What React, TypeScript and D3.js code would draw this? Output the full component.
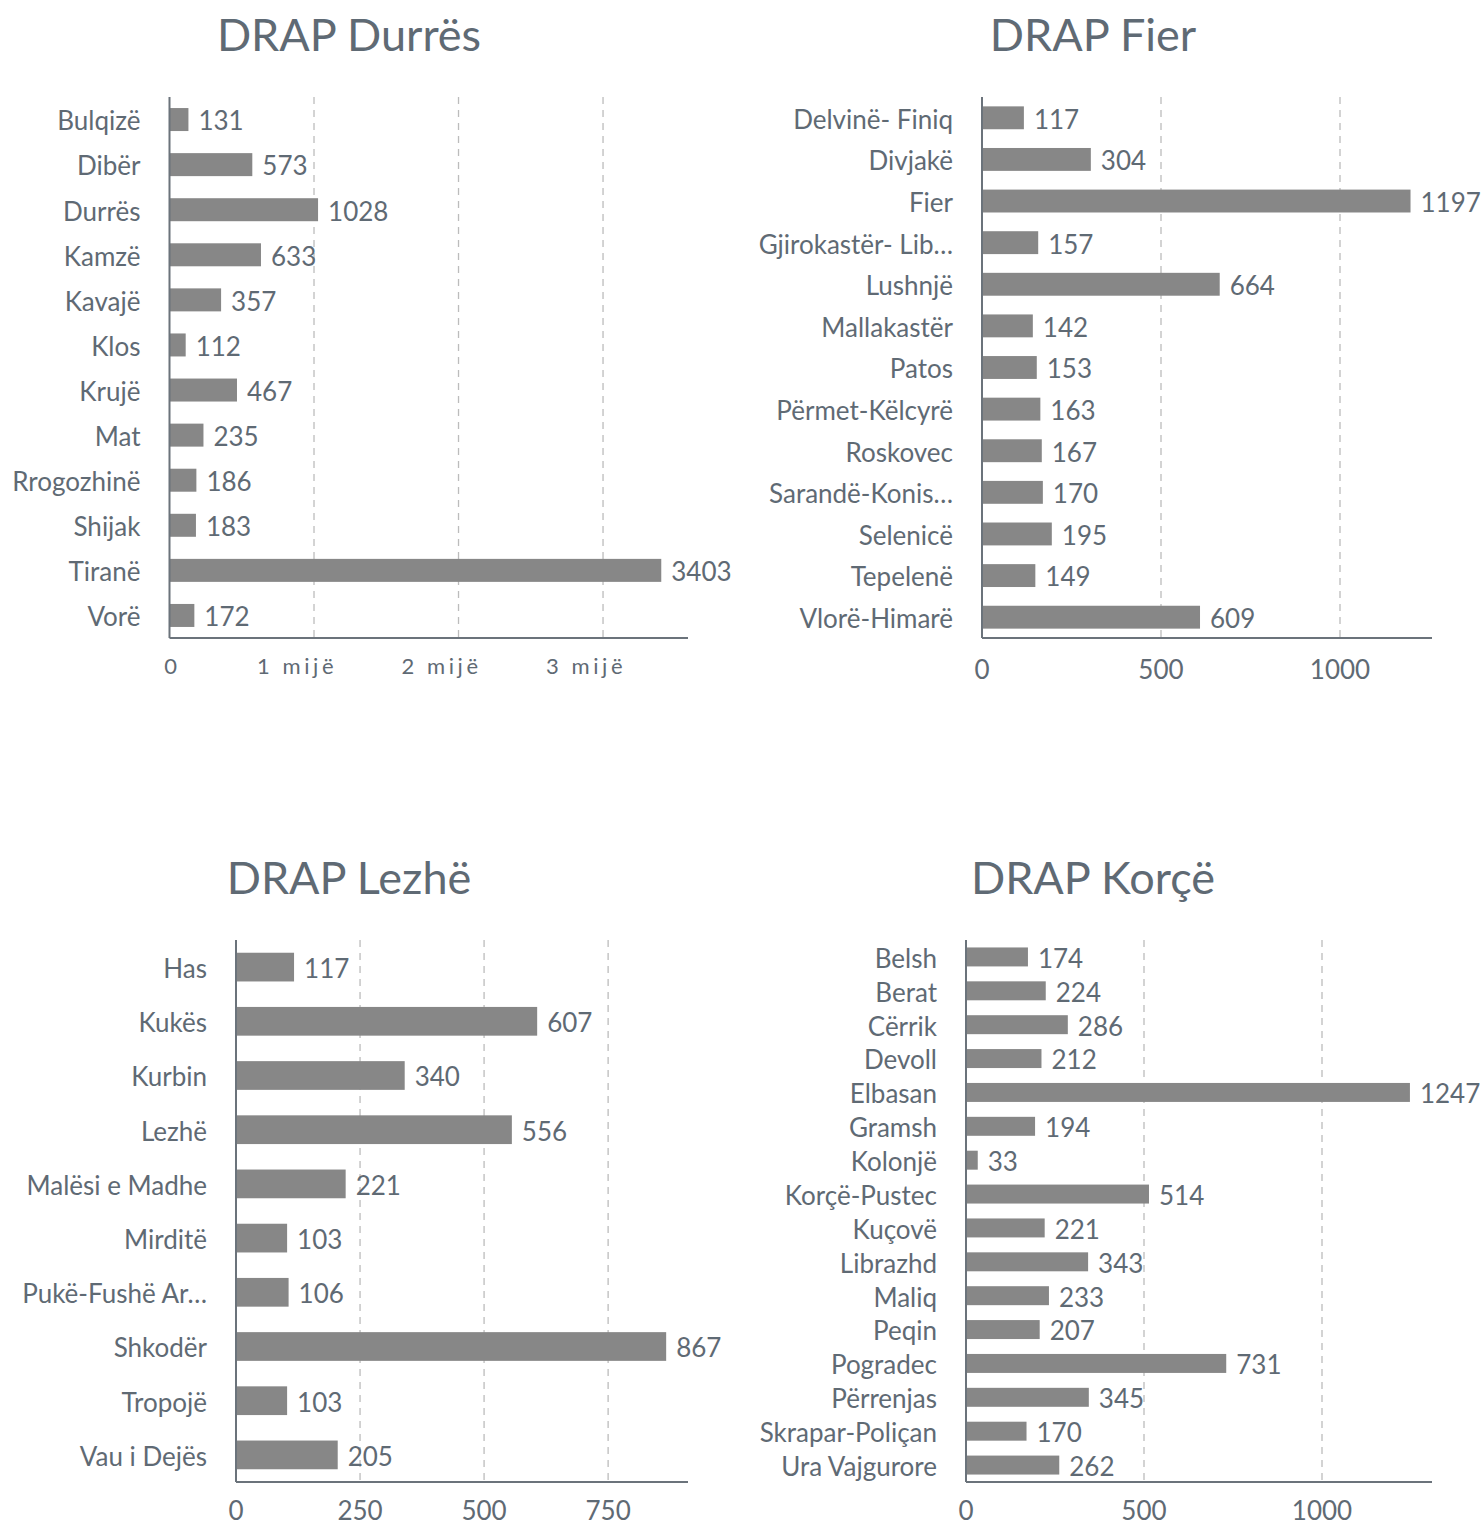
import React from "react";
import * as d3 from "d3";

const durresCats = ["Bulqizë", "Dibër", "Durrës", "Kamzë", "Kavajë", "Klos", "Krujë", "Mat", "Rrogozhinë", "Shijak", "Tiranë", "Vorë"];
const durresVals = [131, 573, 1028, 633, 357, 112, 467, 235, 186, 183, 3403, 172];
const durresTicks = [0, 1000, 2000, 3000];
const durresTickLabels = ["0", "1 mijë", "2 mijë", "3 mijë"];

const fierCats = ["Delvinë- Finiq", "Divjakë", "Fier", "Gjirokastër- Lib…", "Lushnjë", "Mallakastër", "Patos", "Përmet-Këlcyrë", "Roskovec", "Sarandë-Konis…", "Selenicë", "Tepelenë", "Vlorë-Himarë"];
const fierVals = [117, 304, 1197, 157, 664, 142, 153, 163, 167, 170, 195, 149, 609];
const fierTicks = [0, 500, 1000];
const fierTickLabels = ["0", "500", "1000"];

const lezheCats = ["Has", "Kukës", "Kurbin", "Lezhë", "Malësi e Madhe", "Mirditë", "Pukë-Fushë Ar…", "Shkodër", "Tropojë", "Vau i Dejës"];
const lezheVals = [117, 607, 340, 556, 221, 103, 106, 867, 103, 205];
const lezheTicks = [0, 250, 500, 750];
const lezheTickLabels = ["0", "250", "500", "750"];

const korceCats = ["Belsh", "Berat", "Cërrik", "Devoll", "Elbasan", "Gramsh", "Kolonjë", "Korçë-Pustec", "Kuçovë", "Librazhd", "Maliq", "Peqin", "Pogradec", "Përrenjas", "Skrapar-Poliçan", "Ura Vajgurore"];
const korceVals = [174, 224, 286, 212, 1247, 194, 33, 514, 221, 343, 233, 207, 731, 345, 170, 262];
const korceTicks = [0, 500, 1000];
const korceTickLabels = ["0", "500", "1000"];

const TEXT = "#5f6a74";
const BAR = "#878787";
const AXIS = "#6b737b";
const GRID = "#bcbcbc";
const FONT = "Lato, 'Noto Sans', sans-serif";

type PanelProps = {
  title: string;
  titleX: number;
  titleY: number;
  cats: string[];
  vals: number[];
  ticks: number[];
  tickLabels: string[];
  x0: number;
  x1: number;
  domMax: number;
  top: number;
  bottom: number;
  padding: number;
  tickY: number;
  tickStyle?: "spaced";
};

function Panel(p: PanelProps) {
  const x = d3.scaleLinear().domain([0, p.domMax]).range([p.x0, p.x1]);
  const y = d3.scaleBand<string>().domain(p.cats).range([p.top, p.bottom]).paddingInner(p.padding).paddingOuter(p.padding / 2);
  return (
    <g fontFamily={FONT}>
      <text x={p.titleX} y={p.titleY} textAnchor="middle" fontSize={45} fill={TEXT}>{p.title}</text>
      {p.ticks.filter(t => t > 0).map(t => (
        <line key={"g" + t} x1={x(t)} x2={x(t)} y1={p.top} y2={p.bottom} stroke={GRID} strokeWidth={1.3} strokeDasharray="7,6" />
      ))}
      {p.cats.map((c, i) => {
        const yc = (y(c) as number) + y.bandwidth() / 2;
        return (
          <g key={c}>
            <rect x={x(0)} y={y(c)} width={x(p.vals[i]) - x(0)} height={y.bandwidth()} fill={BAR} />
            <text x={p.x0 - 29} y={yc + 1.5} dy="0.36em" textAnchor="end" fontSize={26} fill={TEXT}>{c}</text>
            <text x={x(p.vals[i]) + 10} y={yc + 1.5} dy="0.36em" textAnchor="start" fontSize={26} fill={TEXT}>{p.vals[i]}</text>
          </g>
        );
      })}
      <line x1={p.x0} x2={p.x0} y1={p.top} y2={p.bottom} stroke={AXIS} strokeWidth={2} />
      <line x1={p.x0} x2={p.x1} y1={p.bottom} y2={p.bottom} stroke={AXIS} strokeWidth={2} />
      {p.ticks.map((t, i) => (
        p.tickStyle === "spaced" ? (
          <text key={"t" + t} x={t === 0 ? x(t) + 3 : x(t) - 17} y={p.tickY} dy="0.35em" textAnchor="middle" fontSize={22} letterSpacing={3.6} fill={TEXT}>{p.tickLabels[i]}</text>
        ) : (
          <text key={"t" + t} x={x(t)} y={p.tickY} dy="0.36em" textAnchor="middle" fontSize={26} fill={TEXT}>{p.tickLabels[i]}</text>
        )
      ))}
    </g>
  );
}

export default function App() {
  return (
    <svg width={1481} height={1525} style={{ position: "absolute", left: 0, top: 0, background: "#fff" }}>
      <Panel title="DRAP Durrës" titleX={349} titleY={51} cats={durresCats} vals={durresVals} ticks={durresTicks} tickLabels={durresTickLabels}
        x0={169.5} x1={688} domMax={3588} top={97} bottom={638} padding={0.49} tickY={666} tickStyle="spaced" />
      <Panel title="DRAP Fier" titleX={1093} titleY={51} cats={fierCats} vals={fierVals} ticks={fierTicks} tickLabels={fierTickLabels}
        x0={982} x1={1432} domMax={1257} top={97} bottom={638} padding={0.45} tickY={670} />
      <Panel title="DRAP Lezhë" titleX={349} titleY={894} cats={lezheCats} vals={lezheVals} ticks={lezheTicks} tickLabels={lezheTickLabels}
        x0={236} x1={688} domMax={911} top={940} bottom={1482} padding={0.47} tickY={1511} />
      <Panel title="DRAP Korçë" titleX={1093} titleY={894} cats={korceCats} vals={korceVals} ticks={korceTicks} tickLabels={korceTickLabels}
        x0={966} x1={1432} domMax={1309} top={940} bottom={1482} padding={0.44} tickY={1511} />
    </svg>
  );
}
